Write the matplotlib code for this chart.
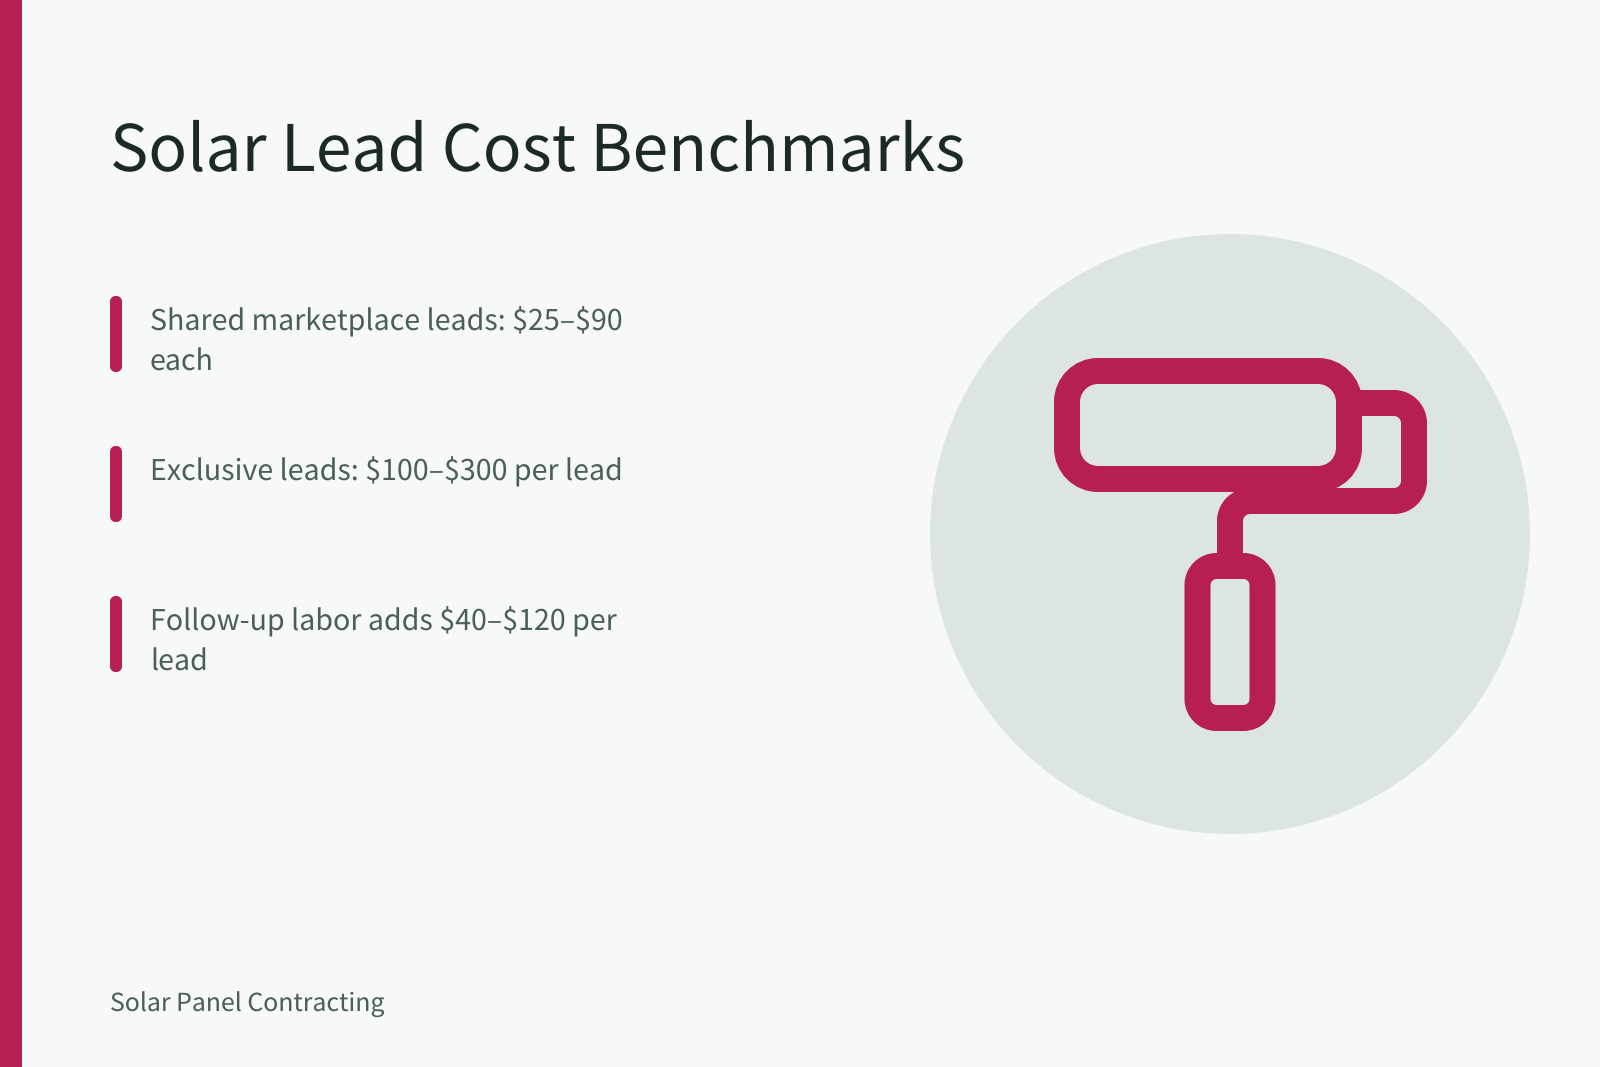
import matplotlib
matplotlib.use("Agg")
import matplotlib.pyplot as plt
from matplotlib.patches import Circle, Rectangle, PathPatch
from matplotlib.path import Path

title = "Solar Lead Cost Benchmarks"
bullets = [["Shared marketplace leads: $25–$90", "each"],
           ["Exclusive leads: $100–$300 per lead"],
           ["Follow-up labor adds $40–$120 per", "lead"]]
footer = "Solar Panel Contracting"
bg = "#F7F9F8"; accent = "#B71F54"; ink = "#1B2A27"; body = "#4A5E5A"; disc = "#DCE5E3"
plt.rcParams['font.family'] = ["Noto Sans CJK SC", "DejaVu Sans"]
plt.rcParams['text.hinting'] = 'none'
plt.rcParams['text.hinting_factor'] = 1

fig = plt.figure(figsize=(16, 10.67), dpi=100, facecolor=bg)
ax = fig.add_axes([0, 0, 1, 1]); ax.set_xlim(0, 1600); ax.set_ylim(1067, 0); ax.axis("off")
K = 0.5523

def rpath(pts, r, closed=False):
    n = len(pts); verts = []; codes = []
    idx = range(n) if closed else range(1, n - 1)
    def unit(a, b):
        d = ((b[0]-a[0])**2 + (b[1]-a[1])**2)**0.5
        return ((b[0]-a[0])/d, (b[1]-a[1])/d)
    if not closed:
        verts.append(pts[0]); codes.append(Path.MOVETO)
    for i in idx:
        p, a, b = pts[i], pts[i-1], pts[(i+1) % n]
        u, v = unit(p, a), unit(p, b)
        s = (p[0]+u[0]*r, p[1]+u[1]*r); e = (p[0]+v[0]*r, p[1]+v[1]*r)
        c1 = (s[0]-u[0]*r*K, s[1]-u[1]*r*K); c2 = (e[0]-v[0]*r*K, e[1]-v[1]*r*K)
        verts.append(s); codes.append(Path.MOVETO if closed and not verts[:-1] else Path.LINETO)
        verts += [c1, c2, e]; codes += [Path.CURVE4] * 3
    if closed:
        verts.append(verts[0]); codes.append(Path.CLOSEPOLY)
    else:
        verts.append(pts[-1]); codes.append(Path.LINETO)
    return Path(verts, codes)

def rrect(x, y, w, h, r):
    return rpath([(x, y), (x+w, y), (x+w, y+h), (x, y+h)], r, closed=True)

ax.add_patch(Rectangle((0, 0), 22, 1067, color=accent, lw=0))
ax.text(110, 170, title, fontsize=46.25, color=ink, va="baseline", ha="left", parse_math=False)
for y0, lines in zip([296, 446, 596], bullets):
    ax.add_patch(PathPatch(rrect(110, y0, 12, 76, 5.5), fc=accent, ec="none"))
    for j, t in enumerate(lines):
        ax.text(150, y0 + 34 + 41 * j, t, fontsize=20.6, color=body, va="baseline", ha="left", parse_math=False)
ax.text(110, 1011, footer, fontsize=17.9, color=body, va="baseline", ha="left", parse_math=False)

ax.add_patch(Circle((1230, 534), 300, fc=disc, ec="none"))
lw = 26 * 0.72
ax.add_patch(PathPatch(rrect(1067, 371, 282, 108, 31), fc="none", ec=accent, lw=lw))
ax.add_patch(PathPatch(rpath([(1355, 403), (1414, 403), (1414, 501), (1230, 501), (1230, 566)], 20),
                       fc="none", ec=accent, lw=lw, capstyle="butt", joinstyle="round"))
ax.add_patch(PathPatch(rrect(1197.5, 566, 65, 152, 19), fc="none", ec=accent, lw=lw))
fig.savefig("out.png", dpi=100, facecolor=bg)
